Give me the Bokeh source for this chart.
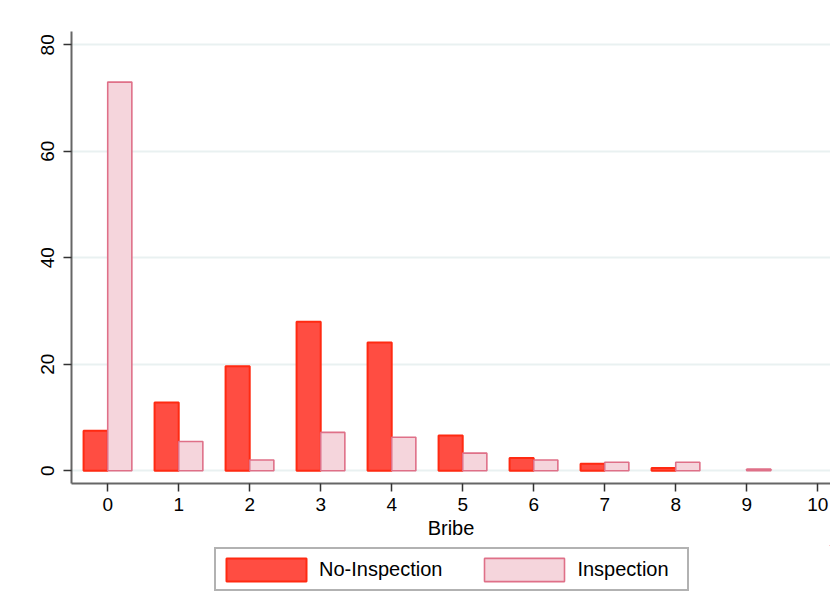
from bokeh.plotting import figure
from bokeh.layouts import column
from bokeh.models import Range1d, FixedTicker, Legend, LegendItem, ColumnDataSource
from bokeh.transform import dodge
from bokeh.embed import file_html
from bokeh.resources import INLINE

bribe = [0, 1, 2, 3, 4, 5, 6, 7, 8, 9, 10]
no_inspection = [7.5, 12.8, 19.6, 28.0, 24.1, 6.6, 2.4, 1.3, 0.5, 0.0, 0.0]
inspection = [73.0, 5.5, 2.0, 7.2, 6.3, 3.3, 2.0, 1.6, 1.6, 0.3, 0.0]
x_ticks = [0, 1, 2, 3, 4, 5, 6, 7, 8, 9, 10]
y_ticks = [0, 20, 40, 60, 80]
series_names = ["No-Inspection", "Inspection"]

FONT = "Liberation Sans"
RED_FILL, RED_LINE = "#ff4d42", "#ff2a12"
PINK_FILL, PINK_LINE = "#f5d5dc", "#df7088"


def nonzero(xs, ys):
    pairs = [(x, y) for x, y in zip(xs, ys) if y > 0]
    return ColumnDataSource(dict(bribe=[a for a, _ in pairs], val=[b for _, b in pairs]))


src_noi = nonzero(bribe, no_inspection)
src_ins = nonzero(bribe, inspection)

p = figure(width=830, height=545, output_backend="svg", toolbar_location=None,
           x_range=Range1d(-0.51, 10.18), y_range=Range1d(-2.4, 82.5),
           min_border_left=71, min_border_right=0, min_border_top=31,
           min_border_bottom=62)

p.outline_line_color = None
p.background_fill_color = "white"
p.border_fill_color = "white"

p.vbar(x=dodge("bribe", -0.17), top="val", bottom=0, width=0.34, source=src_noi,
       fill_color=RED_FILL, line_color=RED_LINE, line_width=2)
p.vbar(x=dodge("bribe", 0.17), top="val", bottom=0, width=0.34, source=src_ins,
       fill_color=PINK_FILL, line_color=PINK_LINE, line_width=1.6)

p.xgrid.visible = False
p.ygrid.grid_line_color = "#e9f1f1"
p.ygrid.grid_line_width = 2
p.ygrid.ticker = FixedTicker(ticks=y_ticks)

p.xaxis.ticker = FixedTicker(ticks=x_ticks)
p.yaxis.ticker = FixedTicker(ticks=y_ticks)
for ax in (p.xaxis[0], p.yaxis[0]):
    ax.axis_line_color = "#666666"
    ax.axis_line_width = 2
    ax.major_tick_line_color = "#333333"
    ax.major_tick_line_width = 1.5
    ax.major_tick_out = 8
    ax.major_tick_in = 0
    ax.minor_tick_line_color = None
    ax.major_label_text_font = FONT
    ax.major_label_text_font_size = "19px"
    ax.major_label_text_color = "black"

p.yaxis.major_label_orientation = "vertical"
p.yaxis.major_label_standoff = 9
p.xaxis.major_label_standoff = 6
p.xaxis.axis_label = "Bribe"
p.xaxis.axis_label_text_font = FONT
p.xaxis.axis_label_text_font_size = "20px"
p.xaxis.axis_label_text_font_style = "normal"
p.xaxis.axis_label_text_color = "black"
p.xaxis.axis_label_standoff = 3

# legend strip below the chart (its frame is aligned with the chart frame)
lg = figure(width=830, height=62, output_backend="svg", toolbar_location=None,
            x_range=Range1d(0, 1), y_range=Range1d(0, 1),
            x_axis_location=None, y_axis_location=None,
            min_border_left=71, min_border_right=0,
            min_border_top=0, min_border_bottom=0)
lg.outline_line_color = None
lg.xgrid.visible = False
lg.ygrid.visible = False
# off-screen proxies whose only role is to give the legend its swatches
lr1 = lg.vbar(x=[5.0], top=[5.0], bottom=[4.0], width=0.1,
              fill_color=RED_FILL, line_color=RED_LINE, line_width=2)
lr2 = lg.vbar(x=[5.0], top=[5.0], bottom=[4.0], width=0.1,
              fill_color=PINK_FILL, line_color=PINK_LINE, line_width=1.6)

legend = Legend(items=[LegendItem(label=series_names[0], renderers=[lr1]),
                       LegendItem(label=series_names[1], renderers=[lr2])],
                orientation="horizontal", location=(143, 16),
                glyph_width=100, glyph_height=29, spacing=32, padding=0,
                label_standoff=3, label_text_font=FONT, label_text_font_size="20px",
                label_text_color="black", label_height=40, label_width=110,
                border_line_color="#666666", border_line_width=2,
                margin=0)
lg.add_layout(legend, "center")

layout = column(p, lg, spacing=0)
open("out.html", "w").write(file_html(layout, INLINE))
